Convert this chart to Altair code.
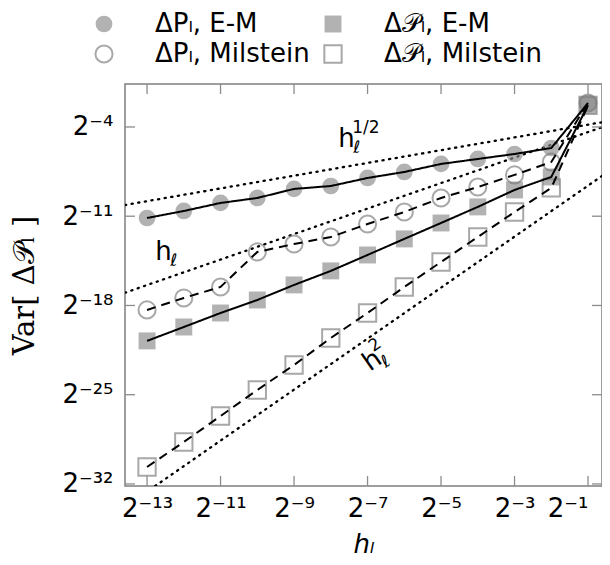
import altair as alt
import pandas as pd

# ---- data (log2 values) ----
levels = [-1, -2, -3, -4, -5, -6, -7, -8, -9, -10, -11, -12, -13]
dP_em = [-2.12, -5.65, -6.12, -6.51, -6.90, -7.53, -8.00, -8.63, -8.86, -9.57, -9.96, -10.59, -11.14]
dP_mil = [-2.12, -6.75, -7.76, -8.71, -9.57, -10.67, -11.61, -12.63, -13.18, -13.80, -16.55, -17.41, -18.35]
dPc_em = [-2.30, -7.92, -8.94, -10.27, -11.53, -12.78, -14.04, -15.29, -16.39, -17.57, -18.59, -19.69, -20.78]
dPc_mil = [-2.30, -8.78, -10.67, -12.63, -14.59, -16.55, -18.59, -20.55, -22.67, -24.63, -26.67, -28.71, -30.67]

series_names = ["ΔPₗ, E-M", "Δ𝒫ₗ, E-M", "ΔPₗ, Milstein", "Δ𝒫ₗ, Milstein"]
series_method = ["E-M", "E-M", "Milstein", "Milstein"]

# reference slopes (endpoints, log2)
guide_names = ["h^1/2", "h", "h^2"]
guide_x = [[-13.6, -0.4], [-13.6, -0.4], [-12.78, -0.4]]
guide_y = [[-10.12, -3.52], [-17.0, -3.80], [-32.16, -7.40]]

# annotation anchors (log2)
ann_x = [-7.80, -12.78, -6.93]
ann_y = [-5.57, -14.43, -23.2]
ann_sup = ["1/2", "", "2"]

x_ticks = [-13, -11, -9, -7, -5, -3, -1]
x_labels = ["2⁻¹³", "2⁻¹¹", "2⁻⁹", "2⁻⁷", "2⁻⁵", "2⁻³", "2⁻¹"]
y_ticks = [-32, -25, -18, -11, -4]
y_labels = ["2⁻³²", "2⁻²⁵", "2⁻¹⁸", "2⁻¹¹", "2⁻⁴"]

x_dom = [-13.6, -0.62]
y_dom = [-32.16, -0.63]

W, H = 477, 402
FONT = "DejaVu Sans"

# ---- tables ----
rows = []
for name, meth, vals in zip(series_names, series_method, [dP_em, dPc_em, dP_mil, dPc_mil]):
    for lv, v in zip(levels, vals):
        rows.append({"h": 2.0 ** lv, "v": 2.0 ** v, "series": name, "method": meth})
df = pd.DataFrame(rows)

grows = []
for g, xs, ys in zip(guide_names, guide_x, guide_y):
    for a, b in zip(xs, ys):
        grows.append({"h": 2.0 ** a, "v": 2.0 ** b, "guide": g})
gdf = pd.DataFrame(grows)

xt = pd.DataFrame({"t": [2.0 ** t for t in x_ticks]})
yt = pd.DataFrame({"t": [2.0 ** t for t in y_ticks]})


def lab_expr(labels, first, step):
    arr = "[" + ",".join("'%s'" % s for s in labels) + "]"
    return arr + "[round((log(datum.value)/LN2 - (%d))/%d)]" % (first, step)


xscale = alt.Scale(type="log", base=2, domain=[2.0 ** x_dom[0], 2.0 ** x_dom[1]], nice=False)
yscale = alt.Scale(type="log", base=2, domain=[2.0 ** y_dom[0], 2.0 ** y_dom[1]], nice=False)

xaxis = alt.Axis(values=[2.0 ** t for t in x_ticks], labelExpr=lab_expr(x_labels, -13, 2),
                 tickSize=0, domain=False, grid=False, labelFont=FONT, labelFontSize=26,
                 labelPadding=9, labelColor="black", title="hₗ", titleFont=FONT,
                 titleFontSize=26, titleFontStyle="italic", titleFontWeight="normal",
                 titleY=66, titleBaseline="alphabetic", labelFlush=15, labelFlushOffset=0,
                 labelOverlap=False)
yaxis = alt.Axis(values=[2.0 ** t for t in y_ticks], labelExpr=lab_expr(y_labels, -32, 7),
                 tickSize=0, domain=False, grid=False, labelFont=FONT, labelFontSize=26,
                 labelPadding=12, labelColor="black", labelBaseline="middle",
                 title="Var[ Δ𝒫ₗ ]", titleFont="DejaVu Serif", titleFontSize=29,
                 titleFontWeight="normal", titleX=-101, titleY=H / 2,
                 titleAngle=270, titleAlign="center", titleBaseline="middle", labelFlush=False,
                 labelOverlap=False)

X = alt.X("h:Q", scale=xscale, axis=xaxis)
Y = alt.Y("v:Q", scale=yscale, axis=yaxis)

guides = alt.Chart(gdf).mark_line(color="black", strokeWidth=2.3, strokeDash=[1.2, 5.5],
                                  strokeCap="round", clip=True).encode(
    x=alt.X("h:Q", scale=xscale), y=alt.Y("v:Q", scale=yscale), detail="guide:N")

legend = alt.Legend(orient="none", legendX=-34, legendY=-73, columns=2, direction="horizontal",
                    title=None, values=series_names, gridAlign="each",
                    labelFont=FONT, labelFontSize=26, labelOffset=38, rowPadding=4,
                    columnPadding=10, symbolStrokeWidth=2, symbolOpacity=0.65,
                    labelColor="black")

markers = alt.Chart(df).mark_point(strokeWidth=2, opacity=0.65).encode(
    x=X, y=Y,
    shape=alt.Shape("series:N", sort=series_names,
                    scale=alt.Scale(domain=series_names, range=["circle", "square", "circle", "square"]),
                    legend=legend),
    fill=alt.Fill("series:N", sort=series_names,
                  scale=alt.Scale(domain=series_names, range=["#8a8a8a", "#8a8a8a", "transparent", "transparent"]),
                  legend=legend),
    stroke=alt.Stroke("series:N", sort=series_names,
                      scale=alt.Scale(domain=series_names, range=["transparent", "transparent", "#7a7a7a", "#7a7a7a"]),
                      legend=legend),
    size=alt.Size("series:N", sort=series_names,
                  scale=alt.Scale(domain=series_names, range=[280, 300, 220, 240]),
                  legend=legend),
)

lines = alt.Chart(df).mark_line(color="black", strokeWidth=2).encode(
    x=alt.X("h:Q", scale=xscale), y=alt.Y("v:Q", scale=yscale),
    detail="series:N",
    strokeDash=alt.StrokeDash("method:N", scale=alt.Scale(domain=["E-M", "Milstein"], range=[[1, 0], [9, 6]]),
                              legend=None),
)

TICK = "#8c8c8c"
tl = 10
xt_bot = alt.Chart(xt).mark_rule(color=TICK, strokeWidth=1.3).encode(
    x=alt.X("t:Q", scale=xscale), y=alt.value(H), y2=alt.value(H - tl))
xt_top = alt.Chart(xt).mark_rule(color=TICK, strokeWidth=1.3).encode(
    x=alt.X("t:Q", scale=xscale), y=alt.value(0), y2=alt.value(tl))
yt_l = alt.Chart(yt).mark_rule(color=TICK, strokeWidth=1.3).encode(
    y=alt.Y("t:Q", scale=yscale), x=alt.value(0), x2=alt.value(tl))
yt_r = alt.Chart(yt).mark_rule(color=TICK, strokeWidth=1.3).encode(
    y=alt.Y("t:Q", scale=yscale), x=alt.value(W), x2=alt.value(W - tl))

adf = pd.DataFrame({"h": [2.0 ** a for a in ann_x], "v": [2.0 ** b for b in ann_y],
                    "sup": ann_sup, "main": ["h"] * 3, "sub": ["ℓ"] * 3,
                    "ang": [0, 0, 325]})

def ann_layer(field, size, dx, dy, style="normal"):
    layers = []
    for i in range(len(adf)):
        one = adf.iloc[[i]]
        ang = int(one["ang"].iloc[0])
        layers.append(alt.Chart(one).mark_text(align="left", baseline="alphabetic", font=FONT,
                                               fontSize=size, dx=dx, dy=dy, angle=ang,
                                               fontStyle=style, color="black").encode(
            x=alt.X("h:Q", scale=xscale), y=alt.Y("v:Q", scale=yscale), text=field + ":N"))
    return layers

ann = ann_layer("main", 26, 0, 0) + ann_layer("sub", 17, 15, 6, "italic") + ann_layer("sup", 17, 14, -14)

chart = alt.layer(guides, markers, lines, xt_bot, xt_top, yt_l, yt_r, *ann).properties(
    width=W, height=H,
    autosize=alt.AutoSizeParams(type="none"),
    padding={"left": 117, "top": 76, "right": 0, "bottom": 78},
).configure_view(stroke="#7f7f7f", strokeWidth=1.5)

chart.save("out.html", embed_options={"renderer": "svg", "actions": False})
